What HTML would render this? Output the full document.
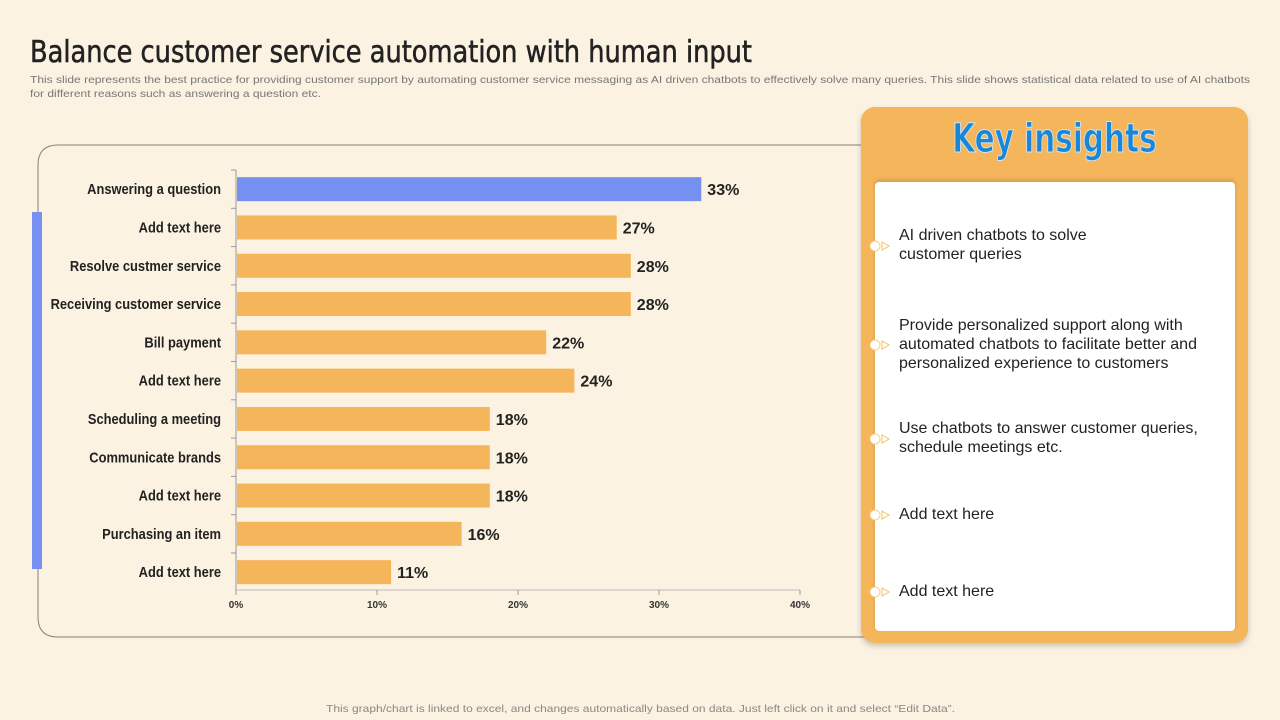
<!DOCTYPE html>
<html><head><meta charset="utf-8"><style>
body{margin:0;width:1280px;height:720px;background:#FCF2E2;overflow:hidden;font-family:"Liberation Sans",sans-serif;position:relative}
.t{position:absolute}
</style></head><body>
<svg class="t" style="left:0;top:0" width="1280" height="720">
<text x="30" y="62" font-family="DejaVu Sans Condensed, Liberation Sans, sans-serif" font-size="30" fill="#222" stroke="#222" stroke-width="0.5" textLength="722" lengthAdjust="spacingAndGlyphs">Balance customer service automation with human input</text>
<text x="30" y="83" font-size="10.5" fill="#777" textLength="1220" lengthAdjust="spacingAndGlyphs">This slide represents the best practice for providing customer support by automating customer service messaging as AI driven chatbots to effectively  solve many queries. This slide shows statistical data related to use of AI  chatbots</text>
<text x="30" y="97" font-size="10.5" fill="#777" textLength="291" lengthAdjust="spacingAndGlyphs">for different reasons such as answering a question etc.</text>
<path d="M870 145 H58 Q38 145 38 165 V617 Q38 637 58 637 H870" fill="none" stroke="#8a8070" stroke-width="1"/>
<rect x="32" y="212" width="10" height="357" fill="#7690F2"/>
<g id="chart"></g>
<text x="326" y="712" font-size="10.5" fill="#888" textLength="629" lengthAdjust="spacingAndGlyphs">This graph/chart is linked to excel,  and changes automatically based on data. Just left click on it and select “Edit Data”.</text>
</svg>
<div class="t" style="left:861px;top:107px;width:387px;height:536px;background:#F5B55A;border-radius:14px;box-shadow:0 3px 6px rgba(0,0,0,0.2)"></div>
<div class="t" style="left:861px;top:116px;width:387px;text-align:center;font-family:'DejaVu Sans Condensed','Liberation Sans',sans-serif;font-weight:bold;font-size:40px;color:#1A87D6;-webkit-text-stroke:1px #cfe3f5;transform:scaleX(0.82)">Key insights</div>
<div class="t" style="left:875px;top:182px;width:360px;height:449px;background:#fff;border-radius:4px;box-shadow:0 -2px 4px rgba(0,0,0,0.15)"></div>
<div id="ins"></div>
<script>
const categories=["Answering a question","Add text here","Resolve custmer service","Receiving customer service","Bill payment","Add text here","Scheduling a meeting","Communicate brands","Add text here","Purchasing an item","Add text here"];
const values=[33,27,28,28,22,24,18,18,18,16,11];
const ticks=[0,10,20,30,40];
const NS="http://www.w3.org/2000/svg";
const g=document.getElementById('chart');
const x0=236,x1=800,yTop=170,step=38.3;
const xs=v=>x0+(v/40)*(x1-x0);
function el(t,a){const e=document.createElementNS(NS,t);for(const k in a)e.setAttribute(k,a[k]);g.appendChild(e);return e;}
let ax=el('line',{x1:x0,y1:yTop,x2:x0,y2:yTop+step*categories.length,stroke:'#999'});


let bx=el('line',{x1:x0,y1:590,x2:x1,y2:590,stroke:'#bbb'});


ticks.forEach(t=>{
 let tk=el('line',{x1:xs(t),y1:590,x2:xs(t),y2:595,stroke:'#999'});
 
 
 let tl=el('text',{x:xs(t),y:608,'text-anchor':'middle','font-size':10,'font-weight':'bold',fill:'#333'});
 tl.textContent=t+'%';
 
 
});
categories.forEach((c,i)=>{
 const yc=yTop+step*(i+0.5);
 let tk=el('line',{x1:x0-5,y1:yTop+step*i,x2:x0,y2:yTop+step*i,stroke:'#999'});
 
 
 let lb=el('text',{x:0,y:0,transform:`translate(221,${yc+5}) scale(0.86,1)`,'text-anchor':'end','font-size':15,'font-weight':'bold',fill:'#222'});
 lb.textContent=c;
 
 
 let r=el('rect',{x:x0+1,y:yc-12,width:xs(values[i])-x0-1,height:24,fill:i===0?'#7690F2':'#F5B55A'});
 
 
 let v=el('text',{x:xs(values[i])+6,y:yc+6,'font-size':16,'font-weight':'bold',fill:'#222'});
 v.textContent=values[i]+'%';
 
 
});
const ins=[["AI driven chatbots to solve","customer queries"],["Provide personalized support along with","automated chatbots to facilitate better and","personalized experience to customers"],["Use chatbots to answer customer queries,","schedule meetings etc."],["Add text here"],["Add text here"]];
const markers=[245,344,438,514,591];
const host=document.getElementById('ins');
ins.forEach((lines,i)=>{
 const d=document.createElement('div');
 d.className='t';
 d.style.cssText=`left:899px;top:${markers[i]-lines.length*9.5}px;font-size:16px;line-height:19px;color:#222;white-space:nowrap`;
 d.innerHTML=lines.join('<br>');
 
 
 host.appendChild(d);
 const m=document.createElement('div');
 m.className='t';
 m.style.cssText=`left:869px;top:${markers[i]-6}px;width:22px;height:12px`;
 m.innerHTML=`<svg width="22" height="12"><circle cx="6" cy="6" r="5" fill="#fff" stroke="#F5D08A"/><path d="M13 2 L20 6 L13 10 Z" fill="#fff" stroke="#F5C060"/></svg>`;
 
 
 host.appendChild(m);
});
</script>
</body></html>
